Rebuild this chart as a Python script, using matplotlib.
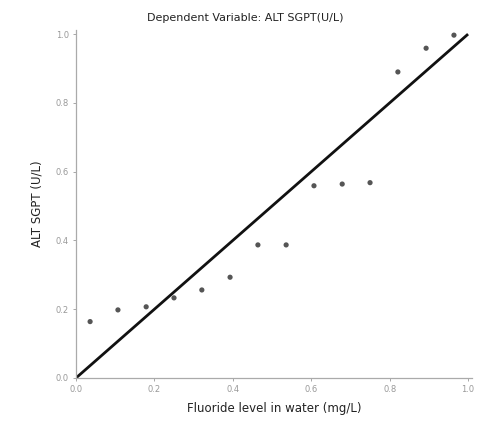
import matplotlib
matplotlib.use("Agg")
import matplotlib.pyplot as plt

# Observed vs expected cumulative probabilities (P-P plot)
observed = [0.036, 0.107, 0.179, 0.250, 0.321, 0.393, 0.464, 0.536, 0.607, 0.679, 0.750, 0.821, 0.893, 0.964]
expected = [0.164, 0.198, 0.207, 0.233, 0.256, 0.293, 0.387, 0.387, 0.559, 0.564, 0.568, 0.890, 0.959, 0.997]
ref_line = [0.0, 1.0]
ticks = [0.0, 0.2, 0.4, 0.6, 0.8, 1.0]
tick_labels = ["0.0", "0.2", "0.4", "0.6", "0.8", "1.0"]

fig = plt.figure(figsize=(4.95, 4.23), dpi=100)
ax = fig.add_axes([0.1535, 0.1064, 0.8, 0.8227])

ax.plot(ref_line, ref_line, color="#111111", lw=2.0, solid_capstyle="butt", zorder=2)
ax.scatter(observed, expected, s=14, color="#555555", edgecolors="none", zorder=3)

ax.set_xlim(0, 1.01)
ax.set_ylim(0, 1.012)
ax.set_xticks(ticks)
ax.set_xticklabels(tick_labels)
ax.set_yticks(ticks)
ax.set_yticklabels(tick_labels)
ax.tick_params(axis="both", labelsize=6, colors="#999999", length=2, width=0.6, pad=3)

for s in ["top", "right"]:
    ax.spines[s].set_visible(False)
for s in ["left", "bottom"]:
    ax.spines[s].set_color("#aaaaaa")
    ax.spines[s].set_linewidth(0.9)

ax.set_xlabel("Fluoride level in water (mg/L)", fontsize=8.5, color="#222222", labelpad=6)
ax.set_ylabel("ALT SGPT (U/L)", fontsize=8.5, color="#222222", labelpad=9)
fig.text(0.495, 0.958, "Dependent Variable: ALT SGPT(U/L)", ha="center", va="center",
         fontsize=8, color="#222222")

fig.savefig("out.png", dpi=100, facecolor="white")
